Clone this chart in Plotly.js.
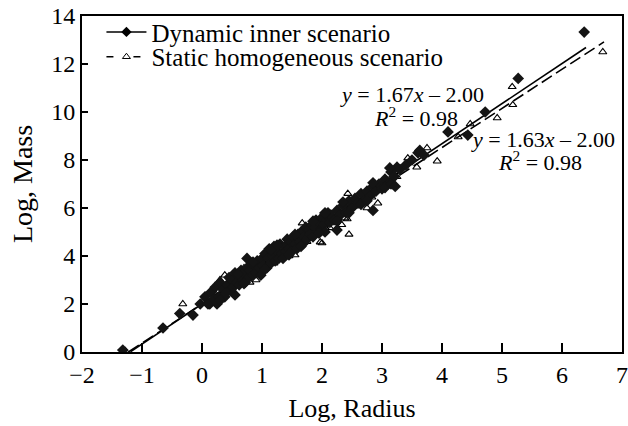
<!DOCTYPE html>
<html>
<head>
<meta charset="utf-8">
<script src="https://cdn.plot.ly/plotly-3.0.1.min.js"></script>
<style>html,body{margin:0;padding:0;background:#fff;}#chart{width:628px;height:426px;}</style>
</head>
<body>
<div id="chart"></div>
<script>
// Dynamic inner scenario (filled diamonds)
const dynX = [-1.32,-0.65,-0.37,-0.15,-0.03,0.13,0.25,0.55,0.75,
0.05,0.1,0.15,0.2,0.22,0.28,0.3,0.35,0.38,0.42,0.45,0.48,0.5,0.52,0.55,0.58,0.6,0.62,0.65,0.68,0.7,0.72,0.75,0.78,0.8,0.82,0.85,0.88,0.9,0.92,0.95,0.98,
1.0,1.02,1.05,1.08,1.1,1.12,1.15,1.18,1.2,1.22,1.25,1.28,1.3,1.33,1.35,1.38,1.4,1.42,1.45,1.48,1.5,1.52,1.55,1.58,1.6,1.63,1.65,1.68,1.7,1.73,1.75,1.78,1.8,1.83,1.85,1.88,1.9,1.93,1.95,1.98,
2.0,2.03,2.05,2.08,2.1,2.13,2.15,2.2,2.25,2.3,2.35,2.4,2.45,2.5,2.55,2.6,2.65,2.7,2.75,2.8,2.85,2.9,2.95,3.0,3.05,3.1,3.15,3.2,3.3,3.4,3.5,3.6,
0.4,0.6,0.85,1.05,1.25,1.45,1.65,1.85,2.05,2.25,2.45,2.65,2.85,3.05,3.25,0.3,0.7,1.15,1.55,1.95,2.35,2.75,3.15,
2.25,2.05,2.85,3.22,3.13,3.63,3.7,4.1,4.43,4.72,5.27,6.37];
const dynY = [0.08,1.0,1.6,1.54,2.0,2.0,2.0,2.38,3.9,
2.3,2.0,2.5,2.2,2.7,2.3,2.9,2.6,2.3,2.8,3.1,2.6,3.0,2.7,3.3,2.9,3.2,2.8,3.4,3.0,3.3,2.9,3.5,3.1,3.4,3.7,3.2,3.6,3.3,3.8,3.5,3.2,
3.9,3.6,4.1,3.5,3.9,4.3,3.7,4.0,4.4,3.8,4.2,3.9,4.5,4.1,3.9,4.4,4.2,4.7,4.3,4.6,4.2,4.8,4.5,4.3,4.9,4.6,5.0,4.5,4.8,5.2,4.7,5.1,4.9,5.3,4.8,5.2,5.5,5.0,5.4,5.1,
5.6,5.3,5.0,5.5,5.8,5.4,5.7,5.5,5.9,5.7,6.1,5.8,6.3,6.0,6.4,6.2,6.6,6.3,6.7,6.5,6.9,6.7,7.0,6.8,7.2,7.0,7.5,7.3,7.6,7.8,8.0,8.3,
2.45,3.25,3.75,3.45,4.45,4.05,4.4,5.45,5.75,5.45,5.8,6.15,7.05,6.85,7.7,2.15,2.85,4.25,4.9,4.95,6.25,6.3,7.0,
5.08,5.8,5.9,6.9,7.67,8.4,8.2,9.17,9.04,10.0,11.4,13.33];

// Static homogeneous scenario (open triangles)
const staX = [-1.28,-0.32,0.05,0.2,0.3,0.38,0.45,0.63,0.8,0.9,0.7,1.0,1.1,1.2,1.3,1.38,1.45,1.55,1.6,1.67,1.75,1.88,1.97,2.0,2.05,2.13,2.2,2.33,2.38,2.42,2.43,2.45,2.55,2.65,2.75,2.83,2.93,3.0,3.1,3.25,3.43,3.58,3.75,3.92,4.27,4.47,4.92,5.17,5.18,6.68];
const staY = [0.05,2.0,2.2,2.5,3.0,3.2,2.6,2.8,2.9,3.0,3.5,3.4,3.9,3.7,4.3,3.96,4.0,4.04,4.6,5.37,4.6,5.42,4.58,4.54,5.2,5.17,5.4,5.3,5.58,5.54,6.6,4.9,6.1,6.3,6.0,6.45,6.2,6.75,7.1,7.3,8.08,7.7,8.5,7.95,8.96,9.5,9.75,11.05,10.3,12.5];

// Regression fits: [slope, intercept, xStart, xEnd]
const dynFit = [1.67, 2.00, -1.19, 6.4];
const staFit = [1.63, 2.00, -1.22, 6.7];
const dynEq = ['<i>y</i> = 1.67<i>x</i> – 2.00', '<i>R</i><sup>2</sup> = 0.98'];
const staEq = ['<i>y</i> = 1.63<i>x</i> – 2.00', '<i>R</i><sup>2</sup> = 0.98'];

const xTicks = [-2,-1,0,1,2,3,4,5,6,7];
const yTicks = [0,2,4,6,8,10,12,14];

const fitLine = f => ({x:[f[2],f[3]], y:[f[0]*f[2]+f[1], f[0]*f[3]+f[1]]});
const dl = fitLine(dynFit), sl = fitLine(staFit);
const FONT = 'Liberation Serif, Times New Roman, serif';

const traces = [
  {x:dl.x, y:dl.y, mode:'lines', line:{color:'#000', width:1.6}, showlegend:false, hoverinfo:'skip'},
  {x:sl.x, y:sl.y, mode:'lines', line:{color:'#000', width:1.6, dash:'12px,5px'}, showlegend:false, hoverinfo:'skip'},
  {x:staX, y:staY, mode:'markers', name:'Static homogeneous scenario', showlegend:false,
   marker:{symbol:'triangle-up-open', size:7, color:'#000', line:{width:1.1, color:'#000'}}},
  {x:dynX, y:dynY, mode:'markers', name:'Dynamic inner scenario', showlegend:false,
   marker:{symbol:'diamond', size:9, color:'#141414'}},
  // legend entries
  {x:[null], y:[null], mode:'lines+markers', name:'Dynamic inner scenario', legend:'legend',
   line:{color:'#000', width:1.5}, marker:{symbol:'diamond', size:8, color:'#000'}},
  {x:[null], y:[null], mode:'lines+markers', name:'Static homogeneous scenario', legend:'legend2',
   line:{color:'#000', width:1.5, dash:'7px,20px'}, marker:{symbol:'triangle-up-open', size:7, color:'#000'}}
];

const legendStyle = {xanchor:'left', yanchor:'middle', bgcolor:'rgba(0,0,0,0)',
  font:{family:FONT, size:25, color:'#000'}, itemwidth:40};

const annFont = {family:FONT, size:22};
const ann = (x, y, t) => ({x:x, y:y, xref:'x', yref:'y', text:t, showarrow:false, align:'center', font:annFont, borderpad:0});

const layout = {
  width:628, height:426,
  margin:{l:82, r:6, t:16, b:74},
  paper_bgcolor:'#fff', plot_bgcolor:'#fff',
  font:{family:FONT, color:'#000', size:19},
  showlegend:true,
  legend:Object.assign({x:0.036, y:0.952}, legendStyle),
  legend2:Object.assign({x:0.036, y:0.878}, legendStyle),
  xaxis:{range:[-2,7], tickvals:xTicks, ticks:'inside', ticklen:9, tickwidth:1.2, tickcolor:'#000',
         showline:true, linecolor:'#000', linewidth:2, mirror:true, showgrid:false, zeroline:false,
         tickfont:{family:FONT, size:24}, title:{text:'Log, Radius', font:{family:FONT, size:26}, standoff:12}},
  yaxis:{range:[0,14], tickvals:yTicks, ticks:'inside', ticklen:6, tickwidth:1.2, tickcolor:'#000',
         showline:true, linecolor:'#000', linewidth:2, mirror:true, showgrid:false, zeroline:false,
         tickfont:{family:FONT, size:24}, title:{text:'Log, Mass', font:{family:FONT, size:28}, standoff:10}},
  annotations:[
    ann(3.5, 10.75, dynEq[0]), ann(3.57, 9.8, dynEq[1]),
    ann(5.68, 8.87, staEq[0]), ann(5.63, 7.97, staEq[1])
  ]
};
Plotly.newPlot('chart', traces, layout, {displayModeBar:false, staticPlot:true});
</script>
</body>
</html>
